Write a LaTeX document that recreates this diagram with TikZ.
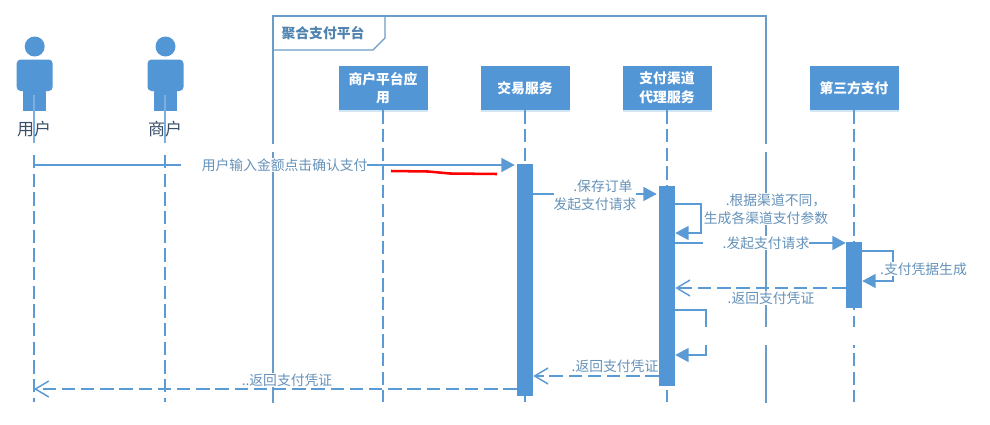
\documentclass[tikz,border=0pt]{standalone}
\usepackage{fontspec}
\setmainfont{Noto Sans CJK SC}
\usetikzlibrary{arrows.meta,shadows,calc}
\definecolor{boxblue}{HTML}{5296D5}
\definecolor{linblue}{HTML}{5B9BD5}
\definecolor{frameblue}{HTML}{6A9CC8}
\definecolor{txtblue}{HTML}{6592BA}
\definecolor{titleblue}{HTML}{4F82AE}
\definecolor{inkdark}{HTML}{3A5068}
\tikzset{
  softshadow/.style={drop shadow={shadow xshift=0pt,shadow yshift=-1.6pt,opacity=.25,fill=boxblue}},
  svcbox/.style={draw=none,fill=boxblue,text=white,minimum width=66.75pt,minimum height=33pt,inner sep=1pt,align=center,softshadow,
     font=\bfseries\fontsize{10.35}{14}\selectfont},
  activation/.style={draw=none,fill=boxblue,minimum width=12pt,inner sep=0pt,anchor=north},
  life/.style={draw=linblue,line width=1.2pt,dash pattern=on 10pt off 4pt},
  msgline/.style={draw=linblue,line width=1.1pt},
  solidtip/.style={-{Triangle[length=10pt,width=10.5pt,fill=linblue]}},
  retline/.style={draw=linblue,line width=1.1pt,dash pattern=on 10pt off 4.4pt,-{Straight Barb[length=10pt,width=12pt,line width=1.1pt]}},
  msg/.style={fill=white,text=txtblue,inner xsep=0pt,inner ysep=0.5pt,align=center,font=\fontsize{10.35}{13.5}\selectfont},
  actorlabel/.style={text=inkdark,inner sep=0pt,font=\fontsize{12.75}{15}\selectfont},
  pics/actorfig/.style={code={
    \fill[boxblue] (0,-64) circle[radius=10];
    \fill[boxblue,rounded corners=3pt] (-18,-51) -- (18,-51) -- (18,-19.5) -- (-18,-19.5) -- cycle;
    \fill[boxblue] (-11.5,-30) rectangle (11.5,0);
  }},
}
\begin{document}
\begin{tikzpicture}[x=0.75pt,y=-0.75pt]
\useasboundingbox (0,0) rectangle (990,425);
% y levels and free ends
\coordinate (lvA) at (0,165);
\coordinate (lvB) at (0,194);
\coordinate (lvC) at (0,204);
\coordinate (lvD) at (0,233);
\coordinate (lvE) at (0,243);
\coordinate (lvF) at (0,251);
\coordinate (lvG) at (0,281);
\coordinate (lvH) at (0,288);
\coordinate (lvI) at (0,310);
\coordinate (lvJ) at (0,355);
\coordinate (lvK) at (0,376);
\coordinate (lvL) at (0,389);
\coordinate (lvEnd) at (0,402);
\coordinate (loopA) at (701,0);
\coordinate (loopB) at (893,0);
\coordinate (loopC) at (706,0);
% frame
\coordinate (fTL) at (273,16);
\coordinate (fTR) at (766,16);
\coordinate (fBL) at (273,403);
\coordinate (fBR) at (766,403);
\draw[frameblue,line width=1.1pt] (fBL) -- (fTL) -- (fTR) -- (fBR);
\draw[frameblue,line width=1pt] (273,50) -- (373,50) -- (385,38) -- (385,16);
\node[inner sep=0pt,text=titleblue,font=\bfseries\fontsize{10.35}{13}\selectfont] (ftitle) at (323,33) {聚合支付平台};
% actors
\pic at (34.7,110.5) {actorfig};
\pic at (165.5,110.5) {actorfig};
\coordinate (uTop) at (34,95);
\coordinate (mTop) at (165,95);
\coordinate (uMid) at (34,155);
\coordinate (mMid) at (165,155);
\coordinate (uGap) at (34,143);
\coordinate (mGap) at (165,143);
\draw[msgline,draw=linblue!80] (uTop) -- (uGap);
\draw[msgline,draw=linblue!80] (mTop) -- (mGap);
\draw[life] (uMid) -- (uMid |- lvEnd);
\draw[life] (mMid) -- (mMid |- lvEnd);
% service boxes
\node[svcbox] (plat) at (383,88) {商户平台应\\用};
\node[svcbox] (trade) at (525,88) {交易服务};
\node[svcbox] (chan) at (667,88) {支付渠道\\代理服务};
\node[svcbox] (third) at (854,88) {第三方支付};
\foreach \n in {plat,trade,chan,third}
  \draw[life] (\n.south) -- (\n.south |- lvEnd);
% gaps in the frame lines and lifelines
\fill[white] (271,144) rectangle (275,152);
\fill[white] (764,144) rectangle (768,152);
\fill[white] (762,327) rectangle (870,345);
% activations
\node[activation,minimum height=174pt] (aT) at (525,164) {};
\node[activation,minimum height=150pt] (aC) at (667,186) {};
\node[activation,minimum height=49.5pt] (aP) at (854,242) {};
% messages
\draw[msgline,solidtip,shorten >=1.5pt] (uMid |- lvA) -- (aT.west |- lvA);
\node[msg] (m1) at (274,165) {\hspace*{16pt}用户输入金额点击确认支付};
\draw[msgline,solidtip,shorten >=1.5pt] (aT.east |- lvB) -- (aC.west |- lvB);
\node[msg,align=right] (m2) at (595,195) {.保存订单\hspace*{3pt}\\发起支付请求};
\draw[msgline,solidtip] (aC.east |- lvC) -- (loopA |- lvC) -- (loopA |- lvD) -- (aC.east |- lvD);
\node[msg,inner xsep=1pt] (m3) at (766,209) {\hspace*{15pt}.根据渠道不同，\\生成各渠道支付参数};
\draw[msgline,solidtip] (aC.east |- lvE) -- (aP.west |- lvE);
\node[msg] (m4) at (756,243) {\hspace*{15pt}.发起支付请求};
\draw[msgline,solidtip] (aP.east |- lvF) -- (loopB |- lvF) -- (loopB |- lvG) -- (aP.east |- lvG);
\node[msg] (m5) at (923.5,269) {.支付凭据生成};
\draw[retline] (aP.west |- lvH) -- (aC.east |- lvH);
\node[msg,inner xsep=10pt] (m6) at (771,298) {.返回支付凭证};
\draw[msgline,solidtip] (aC.east |- lvI) -- (loopC |- lvI) -- (loopC |- lvJ) -- (aC.east |- lvJ);
\fill[white] (700,327) rectangle (712,345);
\draw[retline] (aC.west |- lvK) -- (aT.east |- lvK);
\node[msg] (m7) at (615,366) {.返回支付凭证};
\draw[retline] (aT.west |- lvL) -- (uMid |- lvL);
\node[msg,inner xsep=2pt] (m8) at (287,380) {..返回支付凭证};
% actor names
\node[actorlabel] (uName) at (34,129) {用户};
\node[actorlabel] (mName) at (165,129) {商户};
% red stroke
\draw[red,line width=1.9pt] (391,171) -- (428,171.5) -- (450,173.5) -- (497,174);
\end{tikzpicture}
\end{document}
